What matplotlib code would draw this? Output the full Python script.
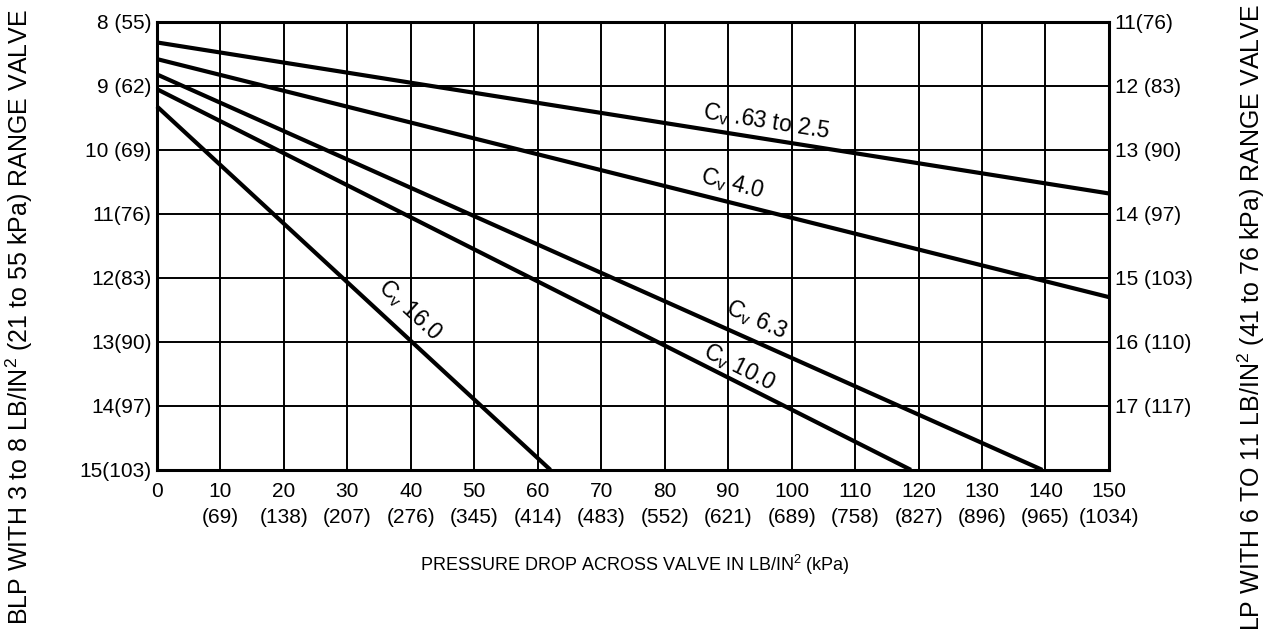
import numpy as np
import matplotlib
matplotlib.use("Agg")
import matplotlib.pyplot as plt

plt.rcParams['font.family'] = ['Liberation Sans', 'DejaVu Sans']
plt.rcParams['mathtext.fontset'] = 'custom'
plt.rcParams['mathtext.rm'] = 'Liberation Sans'

# pressure drop (lb/in2) ticks and kPa equivalents
x_ticks = list(range(0, 160, 10))
x_kpa = ["", "(69)", "(138)", "(207)", "(276)", "(345)", "(414)", "(483)", "(552)",
         "(621)", "(689)", "(758)", "(827)", "(896)", "(965)", "(1034)"]

left_ticks = [8, 9, 10, 11, 12, 13, 14, 15]
left_labels = ["8 (55)", "9 (62)", "10 (69)", "11(76)", "12(83)", "13(90)", "14(97)", "15(103)"]
right_ticks = [8, 9, 10, 11, 12, 13, 14]
right_labels = ["11(76)", "12 (83)", "13 (90)", "14 (97)", "15 (103)", "16 (110)", "17 (117)"]

# Cv curves: start/end points
cv_names = ["$\\mathregular{C_v}$ .63 to 2.5", "$\\mathregular{C_v}$ 4.0", "$\\mathregular{C_v}$ 6.3",
            "$\\mathregular{C_v}$ 10.0", "$\\mathregular{C_v}$ 16.0"]
cv_x = [[0, 150], [0, 150], [0, 139.5], [0, 118.8], [0, 62]]
cv_y = [[8.32, 10.68], [8.58, 12.3], [8.82, 15], [9.05, 15], [9.32, 15]]
label_pos = [(96, 9.56), (90.7, 10.53), (94.5, 12.66), (91.8, 13.4), (39.8, 12.5)]

fig = plt.figure(figsize=(12.7, 6.35), dpi=100)
ax = fig.add_axes([0.1236, 0.26, 0.7496, 0.7054])
ax.set_xlim(0, 150)
ax.set_ylim(15, 8)

ax.set_xticks(x_ticks)
ax.set_xticklabels([f"{t}\n{k}" for t, k in zip(x_ticks, x_kpa)], fontsize=15, linespacing=1.45)
ax.set_yticks(left_ticks)
ax.set_yticklabels(left_labels, fontsize=15)
ax.tick_params(axis='x', length=0, pad=9)
ax.tick_params(axis='y', length=0, pad=4)
ax.grid(True, color='black', linewidth=1.4)
ax.set_axisbelow(True)
for s in ax.spines.values():
    s.set_linewidth(2.2)

ax2 = ax.twinx()
ax2.set_ylim(15, 8)
ax2.set_yticks(right_ticks)
ax2.set_yticklabels(right_labels, fontsize=15)
ax2.tick_params(length=0, pad=4)

for xs, ys in zip(cv_x, cv_y):
    ax.plot(xs, ys, color='black', linewidth=3, solid_capstyle='butt', clip_on=False)

fig.canvas.draw()
for name, xs, ys, (lx, ly) in zip(cv_names, cv_x, cv_y, label_pos):
    p0 = ax.transData.transform((xs[0], ys[0]))
    p1 = ax.transData.transform((xs[1], ys[1]))
    ang = np.degrees(np.arctan2(p1[1] - p0[1], p1[0] - p0[0]))
    ax.text(lx, ly, name, rotation=ang, rotation_mode='anchor', ha='center', va='center',
            fontsize=16.5, color='black')

fig.text(0.5, 0.11, "PRESSURE DROP ACROSS VALVE IN LB/IN$\\mathregular{^2}$ (kPa)",
         ha='center', va='center', fontsize=13)
fig.text(0.015, 0.5, "BLP WITH 3 to 8 LB/IN$\\mathregular{^2}$ (21 to 55 kPa) RANGE VALVE",
         rotation=90, ha='center', va='center', fontsize=18)
fig.text(0.985, 0.5, "LP WITH 6 TO 11 LB/IN$\\mathregular{^2}$ (41 to 76 kPa) RANGE VALVE",
         rotation=90, ha='center', va='center', fontsize=18)

fig.savefig("out.png", dpi=100)
